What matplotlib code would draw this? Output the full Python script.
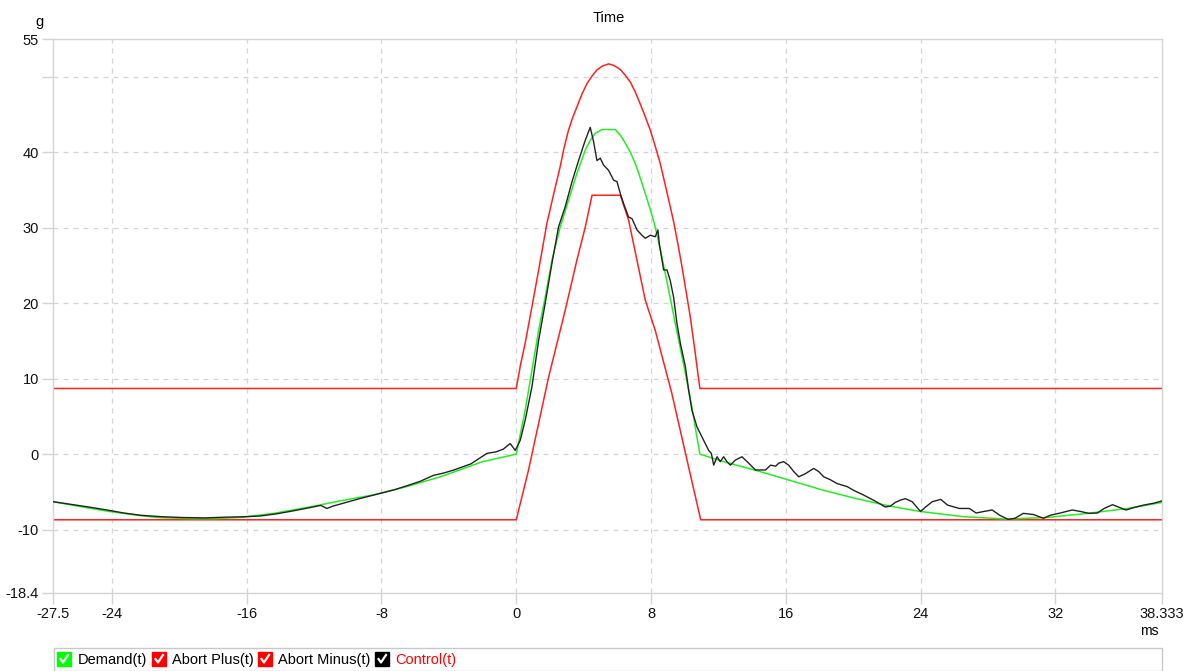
import matplotlib
matplotlib.use("Agg")
import matplotlib.pyplot as plt
from matplotlib.patches import Rectangle
from matplotlib.lines import Line2D

plt.rcParams['font.family'] = ['Liberation Sans', 'DejaVu Sans']

# ---------------- data ----------------
demand_t = [-27.5, -26.0, -24.3, -22.5, -21.3, -19.4, -18.0, -16.4, -14.4, -12.4, -10.45,
            -8.47, -6.5, -4.5, -2.0, 0.0, 0.53, 0.93, 1.33, 1.72, 2.12, 2.61, 3.1, 3.6,
            4.1, 4.4, 4.69, 5.09, 5.88, 6.2, 6.47, 6.77, 7.07, 7.36, 7.66, 7.96, 8.25,
            8.55, 8.85, 9.14, 9.44, 9.74, 10.04, 10.3, 10.53, 10.7, 10.9,
            12.31, 14.3, 16.07, 18.25, 20.2, 22.2, 24.0, 26.6, 29.1, 31.5, 33.9,
            36.3, 38.333]
demand_v = [-6.3, -6.9, -7.55, -8.1, -8.4, -8.55, -8.55, -8.4, -7.85, -7.06, -6.2,
            -5.4, -4.3, -3.0, -1.0, 0.0, 5.8, 11.1, 16.4, 20.8, 25.7, 30.1, 33.6, 37.2,
            40.3, 41.6, 42.5, 43.0, 43.0, 42.2, 41.2, 40.0, 38.5, 36.6, 34.5, 32.4, 30.1,
            27.1, 23.9, 20.7, 17.3, 14.0, 10.7, 7.8, 4.9, 2.6, 0.0,
            -1.0, -2.2, -3.36, -4.8, -5.9, -6.9, -7.6, -8.3, -8.6, -8.4, -7.85,
            -7.2, -6.4]

abort_plus_t = [-27.5, 0.0, 0.25, 0.53, 0.93, 1.33, 1.82, 2.32, 2.61, 2.81, 3.1, 3.35, 3.6,
                3.9, 4.2, 4.5, 4.79, 5.1, 5.48, 5.8, 6.18, 6.47, 6.77, 7.06, 7.36, 7.66,
                7.96, 8.25, 8.55, 8.85, 9.14, 9.34, 9.6, 9.84, 10.1, 10.33, 10.6, 10.9,
                38.333]
abort_plus_v = [8.7, 8.7, 11.8, 14.7, 19.5, 24.4, 30.6, 35.4, 38.1, 40.3, 42.9, 44.6, 46.0,
                47.7, 49.1, 50.1, 50.9, 51.4, 51.7, 51.5, 50.95, 50.2, 49.3, 48.0, 46.4, 44.7,
                42.9, 40.8, 38.5, 35.6, 32.8, 30.8, 27.8, 24.8, 21.3, 18.2, 13.8, 8.7,
                8.7]

abort_minus_t = [-27.5, 0.0, 0.73, 1.92, 2.91, 3.6, 4.1, 4.5, 6.18, 6.67, 7.66, 8.25, 9.24,
                 10.23, 10.95, 38.333]
abort_minus_v = [-8.7, -8.7, -2.1, 10.2, 19.1, 25.7, 30.1, 34.3, 34.3, 31.0, 20.4, 16.4, 8.0,
                 -1.7, -8.7, -8.7]

control_t = [-27.5, -26.6, -25.4, -24.3, -23.3, -22.3, -21.0, -19.8, -18.5, -17.2, -16.2,
             -15.2, -14.2, -13.2, -12.3, -11.6, -11.24, -10.9, -10.1, -9.3, -8.6, -7.9,
             -7.2, -6.5, -5.7, -4.9, -4.3, -3.7, -2.7, -1.74, -1.2, -0.77, -0.36, -0.06,
             0.24, 0.53, 0.93, 1.33, 1.72, 2.12, 2.51, 2.91, 3.31, 3.7, 4.1, 4.39, 4.59,
             4.79, 4.99, 5.18, 5.48, 5.78, 5.98, 6.18, 6.37, 6.67, 6.87, 7.17, 7.46, 7.66,
             7.96, 8.25, 8.41, 8.49, 8.75, 8.95, 9.14, 9.34, 9.54, 9.74, 10.04, 10.23,
             10.43, 10.73, 11.12, 11.42, 11.58, 11.72, 11.92, 12.11, 12.31, 12.51, 12.71,
             13.0, 13.4, 13.8, 14.2, 14.8, 15.1, 15.4, 15.58, 15.87, 16.17, 16.47, 16.77,
             17.16, 17.65, 17.95, 18.25, 18.65, 19.04, 19.64, 20.03, 20.6, 21.2, 21.6,
             21.9, 22.2, 22.5, 22.8, 23.1, 23.5, 24.0, 24.3, 24.7, 25.2, 25.6, 26.3, 26.9,
             27.3, 27.75, 28.25, 28.7, 29.2, 29.6, 30.1, 30.7, 31.3, 31.7, 32.3, 33.0,
             33.5, 34.0, 34.5, 34.9, 35.4, 35.8, 36.2, 36.7, 37.25, 37.85, 38.333]
control_v = [-6.3, -6.6, -7.0, -7.4, -7.8, -8.1, -8.3, -8.4, -8.45, -8.35, -8.3,
             -8.2, -7.9, -7.5, -7.1, -6.8, -7.2, -6.9, -6.4, -5.9, -5.5, -5.1,
             -4.7, -4.2, -3.6, -2.8, -2.5, -2.1, -1.3, 0.1, 0.3, 0.66, 1.4, 0.5,
             1.85, 4.5, 8.9, 15.1, 20.0, 25.3, 30.1, 32.8, 36.1, 38.9, 41.6, 43.3, 41.4,
             38.9, 39.2, 38.3, 37.6, 36.3, 36.1, 34.5, 33.2, 31.4, 31.2, 29.7, 29.0, 28.6,
             29.0, 28.8, 29.7, 27.9, 24.4, 24.4, 23.0, 20.8, 17.3, 14.7, 11.6, 8.5,
             5.8, 3.6, 1.85, 0.5, 0.1, -1.46, -0.35, -1.0, -0.35, -1.0, -1.46,
             -0.8, -0.35, -1.2, -2.1, -2.1, -1.46, -1.6, -1.2, -1.0, -1.46, -2.3, -3.0,
             -2.6, -1.9, -2.3, -3.0, -3.4, -3.9, -4.3, -4.8, -5.4, -6.1, -6.6,
             -7.0, -6.9, -6.4, -6.1, -5.9, -6.3, -7.6, -7.0, -6.3, -6.0, -6.75, -7.2, -7.2,
             -7.8, -7.6, -7.4, -8.1, -8.65, -8.5, -7.85, -8.0, -8.5, -8.1, -7.8, -7.4,
             -7.6, -7.85, -7.8, -7.2, -6.7, -7.06, -7.4, -7.06, -6.75, -6.5, -6.2]

x_ticks = [-27.5, -24, -16, -8, 0, 8, 16, 24, 32, 38.333]
x_labels = ['-27.5', '-24', '-16', '-8', '0', '8', '16', '24', '32', '38.333']
y_ticks = [-18.4, -10, 0, 10, 20, 30, 40, 50, 55]
y_labels = ['-18.4', '-10', '0', '10', '20', '30', '40', '', '55']

legend_labels = ['Demand(t)', 'Abort Plus(t)', 'Abort Minus(t)', 'Control(t)']
legend_colors = ['#00ff00', '#ff0000', '#ff0000', '#000000']
legend_text_colors = ['#000000', '#000000', '#000000', '#ff0000']

# ---------------- figure ----------------
W, H = 1188, 671
fig = plt.figure(figsize=(W / 100, H / 100), dpi=100)
ax = fig.add_axes([53 / W, 1 - 593 / H, (1162 - 53) / W, (593 - 39) / H])

grid_c = '#d4d4d4'
ax.plot(demand_t, demand_v, color='#22ee22', lw=1.1, zorder=3)
ax.plot(abort_plus_t, abort_plus_v, color='#ff2020', lw=1.1, zorder=2)
ax.plot(abort_minus_t, abort_minus_v, color='#ff2020', lw=1.1, zorder=2)
ax.plot(control_t, control_v, color='#222222', lw=1.0, zorder=4)

ax.set_xlim(-27.5, 38.333)
ax.set_ylim(-18.4, 55)
ax.set_xticks(x_ticks)
ax.set_xticklabels(x_labels)
ax.set_yticks(y_ticks)
ax.set_yticklabels(y_labels)
ax.tick_params(axis='both', colors=grid_c, labelcolor='#111111', labelsize=10.5,
               length=8, width=1, pad=2)

for s in ax.spines.values():
    s.set_color(grid_c)
    s.set_linewidth(1.0)

for v in [-10, 0, 10, 20, 30, 40, 50]:
    ax.axhline(v, color=grid_c, lw=0.9, ls=(0, (4, 4)), zorder=1)
for v in [-24, -16, -8, 0, 8, 16, 24, 32]:
    ax.axvline(v, color=grid_c, lw=0.9, ls=(0, (4, 4)), zorder=1)

fig.text(609 / W, 1 - 18 / H, 'Time', ha='center', va='center', fontsize=10.5)
fig.text(40 / W, 1 - 22 / H, 'g', ha='center', va='center', fontsize=10.5)
fig.text(1149 / W, 1 - 631 / H, 'ms', ha='center', va='center', fontsize=10)

# legend strip
fig.patches.append(Rectangle((54 / W, 0), (1162 - 54) / W, 23 / H, transform=fig.transFigure,
                             facecolor='white', edgecolor='#c8c8c8', lw=1.0))
box_x = [57, 152, 258, 375]
text_x = [78, 172, 278, 395]
for bx, tx, lab, col, tc in zip(box_x, text_x, legend_labels, legend_colors, legend_text_colors):
    fig.patches.append(Rectangle((bx / W, 1 - 666 / H), 14 / W, 14 / H,
                                 transform=fig.transFigure, facecolor=col, edgecolor=col))
    fig.lines.append(Line2D([(bx + 3.5) / W, (bx + 6) / W, (bx + 11) / W],
                            [1 - 659 / H, 1 - 662.5 / H, 1 - 655 / H],
                            transform=fig.transFigure, color='white', lw=1.6))
    fig.text(tx / W, 1 - 660 / H, lab, ha='left', va='center', fontsize=10.5, color=tc)

fig.savefig('out.png', dpi=100)
